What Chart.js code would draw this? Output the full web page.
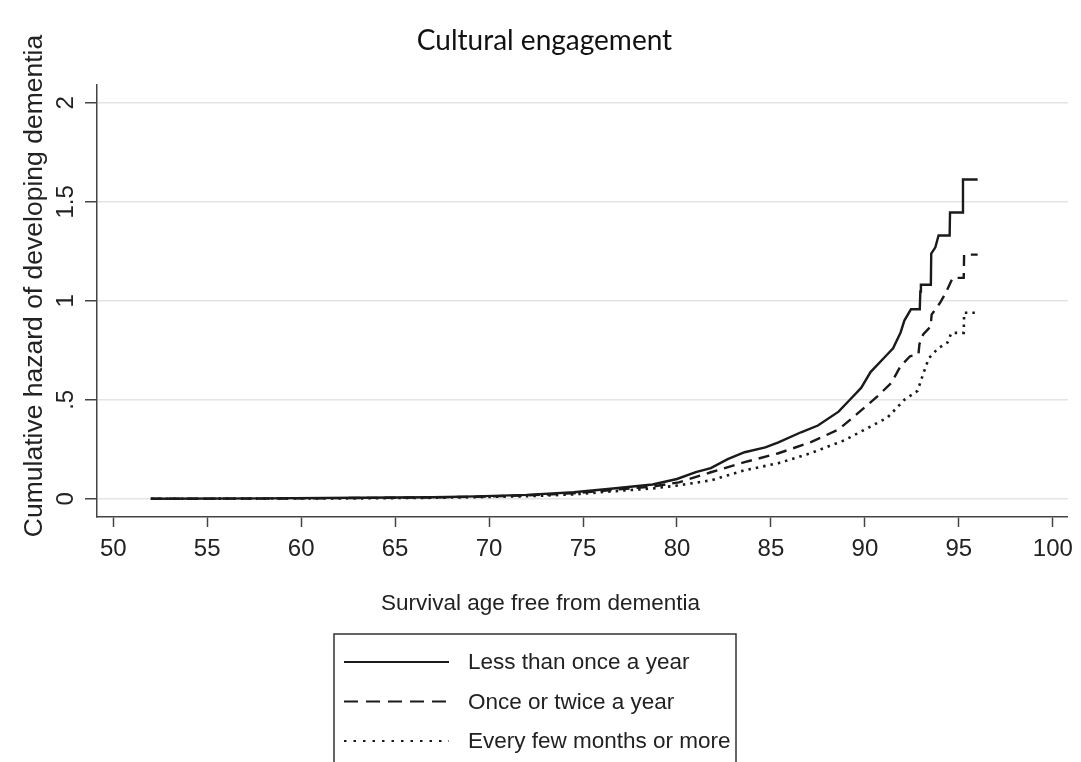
<!DOCTYPE html>
<html>
<head>
<meta charset="utf-8">
<title>Cultural engagement</title>
<script src="https://cdn.jsdelivr.net/npm/chart.js@4"></script>
<style>
  html, body { margin: 0; padding: 0; background: #fff; overflow: hidden; }
  #wrap { position: relative; width: 1081px; height: 762px; }
</style>
</head>
<body>
<div id="wrap"><canvas id="chart"></canvas></div>
<script>
// Nelson–Aalen cumulative hazard by frequency of cultural engagement
const seriesNames = ['Less than once a year', 'Once or twice a year', 'Every few months or more'];

const lessAge = [52.0, 58, 63, 67, 69.3, 72, 74.5, 76.6, 78.7, 80.0, 81.0, 81.8, 82.7, 83.6, 84.7, 85.4, 86.6, 87.5, 88.6, 89.2, 89.8, 90.3, 91.1, 91.5, 91.9, 92.1, 92.45, 92.92, 92.95, 92.98, 93.51, 93.53, 93.75, 93.92, 94.51, 94.53, 95.2, 95.22, 96.0];
const lessHaz = [0, 0.002, 0.005, 0.008, 0.012, 0.02, 0.033, 0.052, 0.072, 0.10, 0.135, 0.155, 0.20, 0.235, 0.26, 0.285, 0.336, 0.37, 0.44, 0.50, 0.56, 0.64, 0.72, 0.76, 0.84, 0.90, 0.957, 0.957, 1.047, 1.081, 1.081, 1.238, 1.27, 1.33, 1.33, 1.446, 1.446, 1.613, 1.613];

const twiceAge = [52.0, 58, 63, 67, 69.3, 72, 74.5, 76.6, 78.7, 80.1, 81.8, 83.6, 85.4, 87.1, 88.6, 89.6, 90.7, 91.4, 91.9, 92.4, 92.85, 92.9, 93.1, 93.5, 93.55, 94.0, 94.3, 94.67, 95.26, 95.28, 96.0];
const twiceHaz = [0, 0.001, 0.004, 0.007, 0.01, 0.017, 0.028, 0.045, 0.062, 0.083, 0.134, 0.185, 0.23, 0.285, 0.35, 0.43, 0.52, 0.585, 0.67, 0.72, 0.73, 0.78, 0.83, 0.87, 0.93, 0.99, 1.04, 1.116, 1.116, 1.233, 1.233];

const oftenAge = [52.0, 58, 63, 67, 69.3, 72, 74.5, 76.6, 78.7, 80.1, 81.8, 83.6, 85.4, 87.1, 88.9, 90.2, 91.2, 92.1, 92.8, 93.1, 93.4, 93.9, 94.4, 94.6, 95.26, 95.28, 96.0];
const oftenHaz = [0, 0.001, 0.002, 0.005, 0.008, 0.013, 0.022, 0.038, 0.052, 0.068, 0.093, 0.144, 0.18, 0.23, 0.295, 0.36, 0.41, 0.50, 0.545, 0.63, 0.71, 0.76, 0.79, 0.838, 0.838, 0.94, 0.94];

const xTicks = [50, 55, 60, 65, 70, 75, 80, 85, 90, 95, 100];
const yTicks = [0, 0.5, 1, 1.5, 2];
const yTickLabels = ['0', '.5', '1', '1.5', '2'];

const xTitle = 'Survival age free from dementia';
const yTitle = 'Cumulative hazard of developing dementia';

const toPoints = (xs, ys) => xs.map((x, i) => ({ x, y: ys[i] }));

const lineStyles = [
  { borderDash: [], borderWidth: 2.4 },
  { borderDash: [11, 7], borderWidth: 2.4 },
  { borderDash: [2.5, 5], borderWidth: 2.6 }
];
const legendDash = [[], [14, 8], [2.5, 7]];

const SANS = '"Liberation Sans", Arial, Helvetica, sans-serif';
const INK = '#1a1a1a';
const AXIS = '#444';
const TEXT = '#222';

// Rotated tick labels on the vertical axis, plus both axis titles
const axisTextPlugin = {
  id: 'axisText',
  afterDraw(chart) {
    const sc = chart.scales.y;
    const ctx = chart.ctx;
    ctx.save();
    ctx.fillStyle = TEXT;
    ctx.textAlign = 'center';
    ctx.textBaseline = 'middle';
    ctx.font = '24px ' + SANS;
    yTicks.forEach((v, i) => {
      ctx.save();
      ctx.translate(sc.right - 31, sc.getPixelForValue(v));
      ctx.rotate(-Math.PI / 2);
      ctx.fillText(yTickLabels[i], 0, 0);
      ctx.restore();
    });
    // vertical axis title
    ctx.save();
    ctx.font = '26.5px ' + SANS;
    ctx.translate(35, (chart.chartArea.top + chart.chartArea.bottom) / 2 - 15);
    ctx.rotate(-Math.PI / 2);
    ctx.fillText(yTitle, 0, 0);
    ctx.restore();
    // horizontal axis title
    ctx.font = '22.5px ' + SANS;
    ctx.fillText(xTitle, chart.width / 2, 604);
    ctx.restore();
  }
};

// Boxed legend with line samples under the axis title
const boxLegendPlugin = {
  id: 'boxLegend',
  afterDraw(chart) {
    const ctx = chart.ctx;
    const left = Math.round(chart.width / 2) - 207;
    const top = 634;
    ctx.save();
    ctx.strokeStyle = '#333';
    ctx.lineWidth = 1.5;
    ctx.strokeRect(left, top, 402, 160);
    ctx.font = '22.5px ' + SANS;
    ctx.fillStyle = TEXT;
    ctx.textAlign = 'left';
    ctx.textBaseline = 'middle';
    chart.data.datasets.forEach((ds, i) => {
      const y = top + 28 + i * 39.5;
      ctx.save();
      ctx.strokeStyle = ds.borderColor;
      ctx.lineWidth = 2;
      ctx.setLineDash(legendDash[i]);
      ctx.beginPath();
      ctx.moveTo(left + 10, y);
      ctx.lineTo(left + 115, y);
      ctx.stroke();
      ctx.restore();
      ctx.fillText(ds.label, left + 134, y + 1);
    });
    ctx.restore();
  }
};

new Chart(document.getElementById('chart'), {
  type: 'line',
  data: {
    datasets: [
      { label: seriesNames[0], data: toPoints(lessAge, lessHaz) },
      { label: seriesNames[1], data: toPoints(twiceAge, twiceHaz) },
      { label: seriesNames[2], data: toPoints(oftenAge, oftenHaz) }
    ].map((d, i) => Object.assign(d, {
      borderColor: INK,
      borderWidth: lineStyles[i].borderWidth,
      borderDash: lineStyles[i].borderDash,
      pointRadius: 0,
      tension: 0,
      fill: false
    }))
  },
  options: {
    responsive: true,
    maintainAspectRatio: false,
    animation: false,
    layout: { padding: { left: 19, right: 11, top: 0, bottom: 142 } },
    plugins: {
      legend: { display: false },
      tooltip: { enabled: false },
      title: {
        display: true,
        text: 'Cultural engagement',
        color: '#111',
        font: { family: 'Lato, "Open Sans", sans-serif', size: 28, weight: 'normal', lineHeight: 1.2 },
        padding: { top: 24, bottom: 27.4 }
      }
    },
    scales: {
      x: {
        type: 'linear',
        min: 49.135,
        max: 100.8,
        afterBuildTicks: (sc) => { sc.ticks = xTicks.map(v => ({ value: v })); },
        afterFit: (sc) => { sc.height = 103; },
        border: { display: true, color: AXIS, width: 1.5 },
        grid: { drawOnChartArea: false, drawTicks: true, tickLength: 10, tickColor: AXIS, tickWidth: 1.5 },
        ticks: { color: TEXT, font: { family: SANS, size: 24 }, padding: 8, maxRotation: 0 },
        title: { display: false }
      },
      y: {
        type: 'linear',
        min: -0.092,
        max: 2.09,
        afterBuildTicks: (sc) => { sc.ticks = yTicks.map(v => ({ value: v })); },
        afterFit: (sc) => { sc.width = 78; },
        border: { display: true, color: AXIS, width: 1.5 },
        grid: { color: '#e4e4e4', lineWidth: 1.5, drawTicks: true, tickLength: 12, tickColor: AXIS, tickWidth: 1.5 },
        ticks: { display: false },
        title: { display: false }
      }
    }
  },
  plugins: [axisTextPlugin, boxLegendPlugin]
});
</script>
</body>
</html>
